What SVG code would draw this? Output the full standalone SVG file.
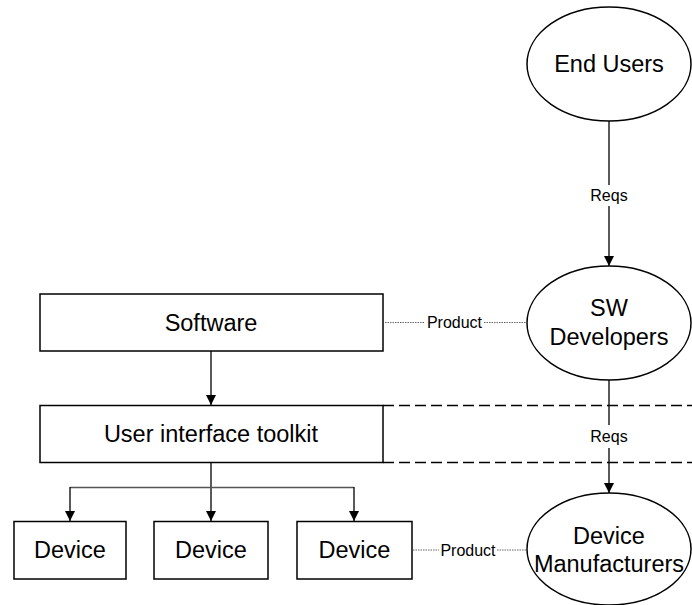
<svg xmlns="http://www.w3.org/2000/svg" width="692" height="605" viewBox="0 0 692 605">
  <style>
    .box { fill: #fff; stroke: #000; stroke-width: 1.5; }
    .big { font-family: "Liberation Sans", Arial, sans-serif; font-size: 23.5px; fill: #000; text-anchor: middle; dominant-baseline: central; }
    .lbl { font-family: "Liberation Sans", Arial, sans-serif; font-size: 16px; fill: #000; text-anchor: middle; dominant-baseline: central; }
    .link { fill: none; stroke: #000; stroke-width: 1.3; }
    .dot { fill: none; stroke: #666; stroke-width: 1.2; stroke-dasharray: 1.5 1; }
    .dash { fill: none; stroke: #000; stroke-width: 1.5; stroke-dasharray: 11 5; }
  </style>
  <defs>
    <marker id="arrow" viewBox="0 0 10 10" refX="10" refY="5" markerWidth="10" markerHeight="10" markerUnits="userSpaceOnUse" orient="auto">
      <path d="M0,0 L10,5 L0,10 Z" fill="#000"/>
    </marker>
  </defs>
  <rect width="692" height="605" fill="#fff"/>

  <!-- layer boundary lines -->
  <g id="layer-bounds">
    <line class="dash" x1="383" y1="405.5" x2="692" y2="405.5"/>
    <line class="dash" x1="383" y1="462.5" x2="692" y2="462.5"/>
  </g>

  <g id="connectors">
    <!-- End Users to SW Developers -->
    <line class="link" x1="609" y1="121" x2="609" y2="185"/>
    <line class="link" x1="609" y1="206" x2="609" y2="266" marker-end="url(#arrow)"/>
    <text class="lbl" x="609" y="195">Reqs</text>
    <!-- SW Developers to Device Manufacturers -->
    <line class="link" x1="609" y1="380" x2="609" y2="425"/>
    <line class="link" x1="609" y1="448" x2="609" y2="493" marker-end="url(#arrow)"/>
    <text class="lbl" x="609" y="436">Reqs</text>
    <!-- Software to toolkit -->
    <line class="link" x1="211" y1="351" x2="211" y2="405" marker-end="url(#arrow)"/>
    <!-- toolkit to devices -->
    <line class="link" x1="211" y1="463" x2="211" y2="521" marker-end="url(#arrow)"/>
    <line class="link" x1="70" y1="487.5" x2="354" y2="487.5" style="stroke:#555"/>
    <line class="link" x1="70" y1="487" x2="70" y2="521" marker-end="url(#arrow)"/>
    <line class="link" x1="354" y1="487" x2="354" y2="521" marker-end="url(#arrow)"/>
    <!-- product links -->
    <line class="dot" x1="385" y1="322.5" x2="425" y2="322.5"/>
    <line class="dot" x1="484" y1="322.5" x2="526" y2="322.5"/>
    <text class="lbl" x="454.5" y="322.5">Product</text>
    <line class="dot" x1="413" y1="550" x2="439" y2="550"/>
    <line class="dot" x1="497" y1="550" x2="526" y2="550"/>
    <text class="lbl" x="468" y="550">Product</text>
  </g>

  <g id="end-users">
    <ellipse class="box" cx="609" cy="64" rx="82" ry="57"/>
    <text class="big" x="609" y="64">End Users</text>
  </g>
  <g id="sw-developers">
    <ellipse class="box" cx="609" cy="323" rx="82" ry="57"/>
    <text class="big" x="609" y="308">SW</text>
    <text class="big" x="609" y="337">Developers</text>
  </g>
  <g id="device-manufacturers">
    <ellipse class="box" cx="609" cy="549" rx="82" ry="56"/>
    <text class="big" x="609" y="536">Device</text>
    <text class="big" x="609" y="564">Manufacturers</text>
  </g>
  <g id="software">
    <rect class="box" x="40" y="294" width="343" height="57"/>
    <text class="big" x="211" y="322.5">Software</text>
  </g>
  <g id="toolkit">
    <rect class="box" x="40" y="405.5" width="343" height="57"/>
    <text class="big" x="211" y="434">User interface toolkit</text>
  </g>
  <g id="device-1">
    <rect class="box" x="14" y="521.5" width="112" height="57.5"/>
    <text class="big" x="70" y="550">Device</text>
  </g>
  <g id="device-2">
    <rect class="box" x="154" y="521.5" width="114" height="57.5"/>
    <text class="big" x="211" y="550">Device</text>
  </g>
  <g id="device-3">
    <rect class="box" x="297" y="521.5" width="115" height="57.5"/>
    <text class="big" x="354.5" y="550">Device</text>
  </g>
</svg>
